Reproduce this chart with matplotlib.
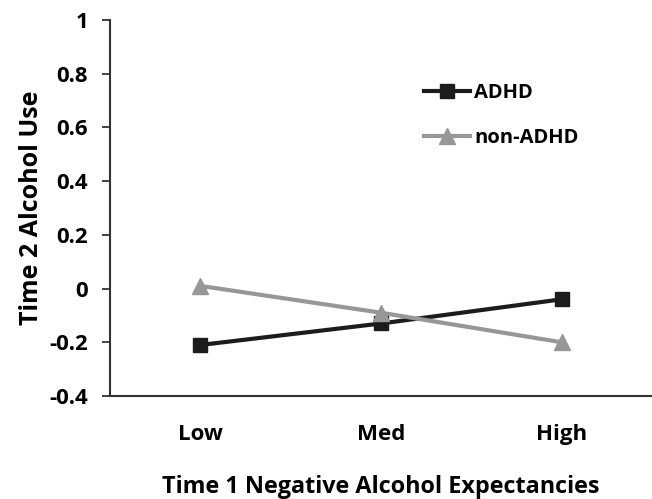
import matplotlib
matplotlib.use("Agg")
import matplotlib.pyplot as plt

# data
categories = ["Low", "Med", "High"]
adhd = [-0.21, -0.13, -0.04]
non_adhd = [0.01, -0.09, -0.20]
y_ticks = [-0.4, -0.2, 0, 0.2, 0.4, 0.6, 0.8, 1]
y_tick_labels = ["-0.4", "-0.2", "0", "0.2", "0.4", "0.6", "0.8", "1"]

plt.rcParams['font.family'] = ['Open Sans', 'DejaVu Sans']
plt.rcParams['font.weight'] = 'bold'

fig = plt.figure(figsize=(6.52, 4.99), dpi=100)
ax = fig.add_axes([0.169, 0.2064, 0.831, 0.7536])

x = range(len(categories))
ax.plot(x, adhd, color='#1c1c1c', linewidth=3, marker='s', markersize=10.5,
        label='ADHD')
ax.plot(x, non_adhd, color='#979797', linewidth=3, marker='^', markersize=11.5,
        label='non-ADHD')

ax.set_xlim(-0.5, 2.5)
ax.set_ylim(-0.4, 1)
ax.set_yticks(y_ticks)
ax.set_yticklabels(y_tick_labels, fontsize=16, fontweight='bold')
ax.set_xticks(list(x))
ax.set_xticklabels(categories, fontsize=16, fontweight='bold')
ax.tick_params(axis='x', length=0, pad=20)
ax.tick_params(axis='y', direction='out', length=6, width=1.3, color='#333333', pad=10)

for side in ['top', 'right']:
    ax.spines[side].set_visible(False)
for side in ['left', 'bottom']:
    ax.spines[side].set_linewidth(1.5)
    ax.spines[side].set_color('#333333')

ax.set_ylabel('Time 2 Alcohol Use', fontsize=18, fontweight='bold', labelpad=4)
ax.set_xlabel('Time 1 Negative Alcohol Expectancies', fontsize=16.8,
              fontweight='bold', labelpad=22)

ax.legend(loc='upper left', bbox_to_anchor=(0.546, 0.881), frameon=False,
          handlelength=2.3, handletextpad=0.2, labelspacing=1.25,
          prop={'weight': 'bold', 'size': 14.5})

fig.savefig('out.png', dpi=100, facecolor='white')
